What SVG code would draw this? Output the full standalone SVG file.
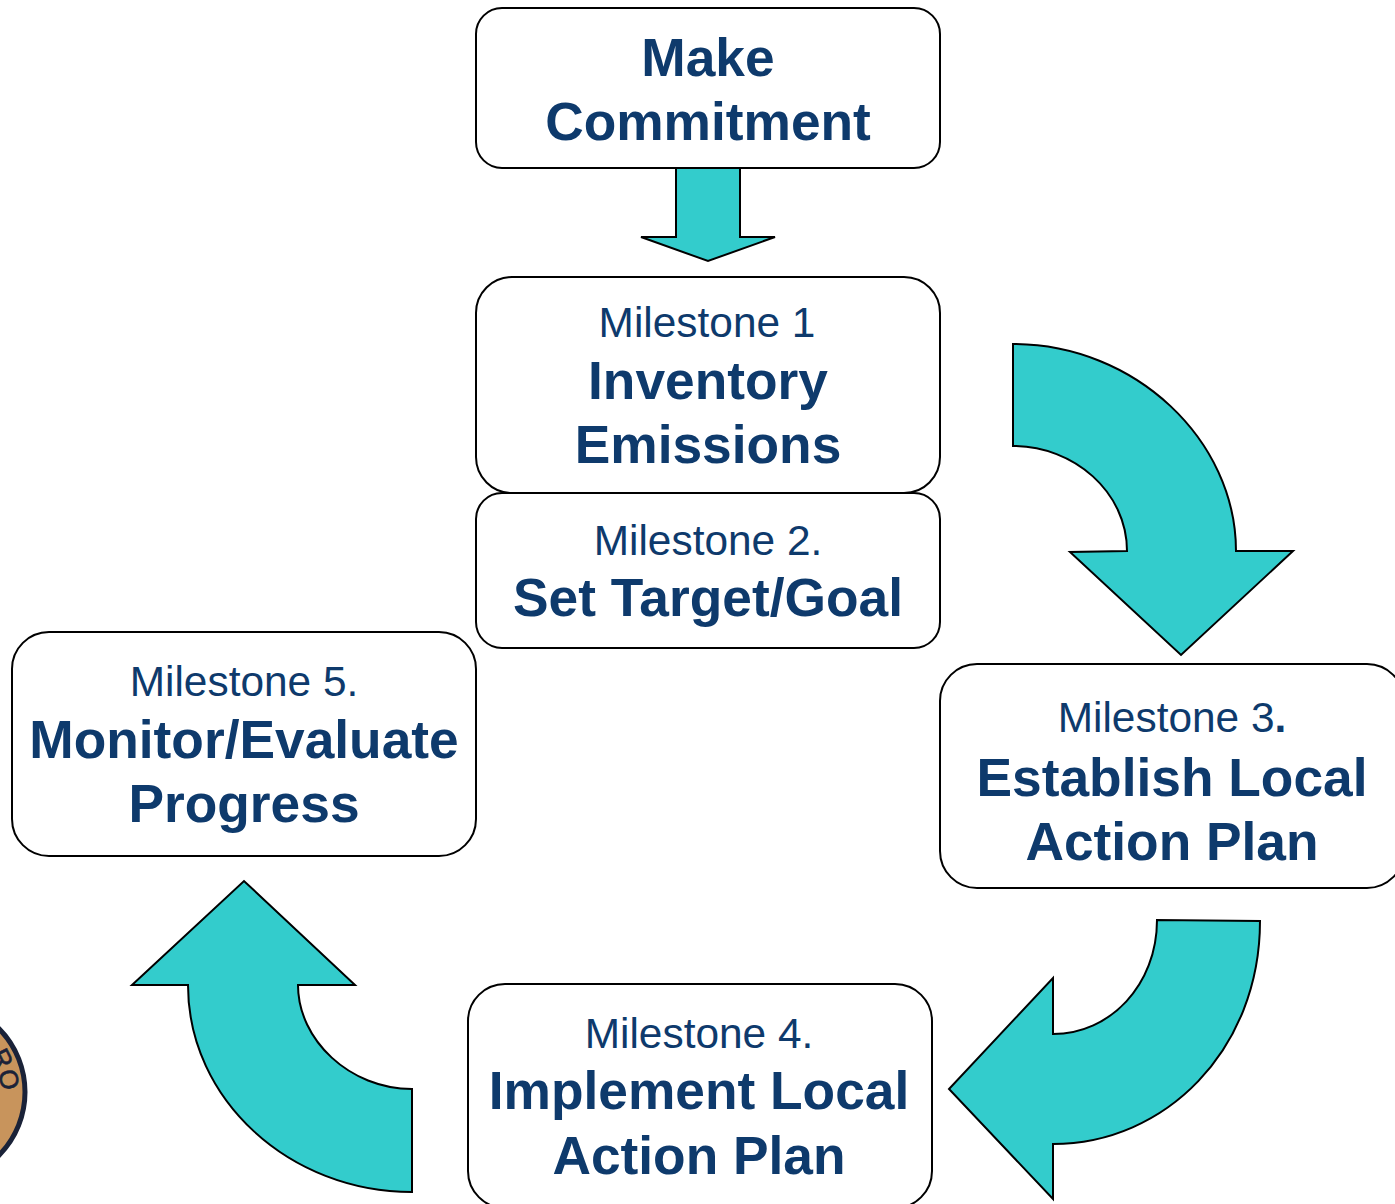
<svg xmlns="http://www.w3.org/2000/svg" width="1395" height="1204" viewBox="0 0 1395 1204">
<style>
.box{fill:#fff;stroke:#000;stroke-width:2}
.arrow{fill:#33cccc;stroke:#000;stroke-width:2;stroke-linejoin:miter}
text{font-family:"Liberation Sans",Arial,sans-serif;fill:#0e3a6c;text-anchor:middle}
.b{font-weight:700;font-size:53.3px}
.r{font-size:42.4px}
</style>
<defs><path id="sealArc" d="M-23.5 1040.7A66 66 0 0 1 1 1092"/></defs>
<rect width="1395" height="1204" fill="#fff"/>
<g id="seal">
<circle cx="-65" cy="1092" r="90" fill="#c8945c" stroke="#1a2238" stroke-width="5"/>
<text style="font-size:26px;fill:#1a2238;stroke:#1a2238;stroke-width:.6;text-anchor:start"><textPath href="#sealArc">DRO</textPath></text>
</g>
<g id="connectors">
<path class="arrow" d="M676 168H740V237H775L708 261L641 237H676Z"/>
<path class="arrow" d="M1013 344C1135 344 1236 440 1236 551H1293L1181 655L1070 552L1127 551C1127 492 1074 446 1013 446Z"/>
<path class="arrow" d="M1260 921C1260 1050 1165 1144 1053 1144V1199L949 1089L1053 978V1034C1110 1034 1157 985 1157 920Z"/>
<path class="arrow" d="M412 1192C290 1192 188 1100 188 985H132L244 881L355 985H298C298 1040 350 1089 412 1089Z"/>
</g>
<g id="make-commitment">
<rect class="box" x="476" y="8" width="464" height="160" rx="26"/>
<text class="b" x="708" y="76">Make</text>
<text class="b" x="708" y="140">Commitment</text>
</g>
<g id="milestone-1">
<rect class="box" x="476" y="277" width="464" height="216" rx="36"/>
<text class="r" x="707" y="337">Milestone 1</text>
<text class="b" x="708" y="399">Inventory</text>
<text class="b" x="708" y="463">Emissions</text>
</g>
<g id="milestone-2">
<rect class="box" x="476" y="493" width="464" height="155" rx="26"/>
<text class="r" x="708" y="555">Milestone 2.</text>
<text class="b" x="708" y="616">Set Target/Goal</text>
</g>
<g id="milestone-3">
<rect class="box" x="940" y="664" width="464" height="224" rx="37"/>
<text class="r" x="1172" y="732">Milestone 3<tspan font-weight="700">.</tspan></text>
<text class="b" x="1172" y="796">Establish Local</text>
<text class="b" x="1172" y="860">Action Plan</text>
</g>
<g id="milestone-4">
<rect class="box" x="468" y="984" width="464" height="224" rx="37"/>
<text class="r" x="699" y="1048">Milestone 4.</text>
<text class="b" x="699" y="1109">Implement Local</text>
<text class="b" x="699" y="1174">Action Plan</text>
</g>
<g id="milestone-5">
<rect class="box" x="12" y="632" width="464" height="224" rx="37"/>
<text class="r" x="244" y="696">Milestone 5.</text>
<text class="b" x="244" y="758">Monitor/Evaluate</text>
<text class="b" x="244" y="822">Progress</text>
</g>
</svg>
